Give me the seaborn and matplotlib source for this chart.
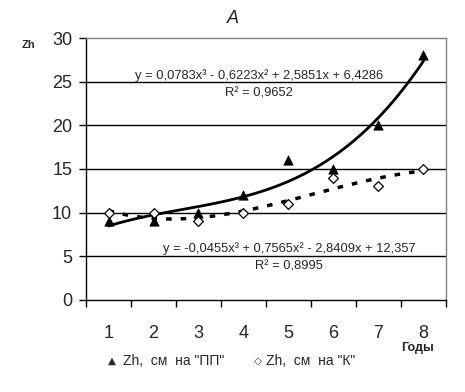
import numpy as np
import pandas as pd
import matplotlib
matplotlib.use("Agg")
import matplotlib.pyplot as plt
import seaborn as sns

years = [1, 2, 3, 4, 5, 6, 7, 8]
zh_pp = [9, 9, 10, 12, 16, 15, 20, 28]
zh_k = [10, 10, 9, 10, 11, 14, 13, 15]
label_pp = 'Zh,  см  на "ПП"'
label_k = 'Zh,  см  на "К"'
eq_pp = "y = 0,0783x³ - 0,6223x² + 2,5851x + 6,4286"
r2_pp = "R² = 0,9652"
eq_k = "y = -0,0455x³ + 0,7565x² - 2,8409x + 12,357"
r2_k = "R² = 0,8995"

df = pd.DataFrame({"year": years, "pp": zh_pp, "k": zh_k})

sns.set_style("white")
plt.rcParams["font.family"] = ["Liberation Sans", "DejaVu Sans"]

fig = plt.figure(figsize=(4.65, 3.92), dpi=100)
ax = fig.add_axes([0.185, 0.235, 0.774, 0.668])

# horizontal grid
for yv in [5, 10, 15, 20, 25]:
    ax.axhline(yv, color="black", lw=1.0, zorder=1)

# cubic trend lines
sns.regplot(data=df, x="year", y="pp", order=3, ci=None, scatter=False,
            truncate=True, ax=ax, line_kws=dict(color="black", lw=2, zorder=3))
sns.regplot(data=df, x="year", y="k", order=3, ci=None, scatter=False,
            truncate=True, ax=ax,
            line_kws=dict(color="black", lw=2.5, ls=(0, (1.6, 2.6)), zorder=3))

sns.scatterplot(data=df, x="year", y="pp", marker="^", s=45, color="black",
                edgecolor="black", ax=ax, zorder=4)
sns.scatterplot(data=df, x="year", y="k", marker="D", s=25, facecolor="white",
                edgecolor="black", linewidth=0.9, ax=ax, zorder=4)

ax.set_xlim(0.5, 8.5)
ax.set_ylim(0, 30)
ax.set_xlabel("")
ax.set_ylabel("")

ax.set_xticks(years)
ax.set_xticklabels([str(y) for y in years], fontsize=13)
ax.set_xticks(np.arange(0.5, 9.0, 1.0), minor=True)
ax.tick_params(axis="x", which="major", length=0, pad=18)
ax.tick_params(axis="x", which="minor", length=5, width=1, color="black",
               direction="out", bottom=True)
ax.set_yticks([0, 5, 10, 15, 20, 25, 30])
ax.tick_params(axis="y", length=5, width=1, color="black", direction="out",
               left=True, labelsize=13, pad=5)

ax.spines["left"].set_color("black")
ax.spines["bottom"].set_color("black")
ax.spines["top"].set_color("#808080")
ax.spines["right"].set_color("#808080")
for s in ax.spines.values():
    s.set_linewidth(1.0)

ax.text(0.48, 0.855, eq_pp, transform=ax.transAxes, ha="center", va="center", fontsize=9.3)
ax.text(0.48, 0.79, r2_pp, transform=ax.transAxes, ha="center", va="center", fontsize=9.3)
ax.text(0.565, 0.195, eq_k, transform=ax.transAxes, ha="center", va="center", fontsize=9.3)
ax.text(0.565, 0.127, r2_k, transform=ax.transAxes, ha="center", va="center", fontsize=9.3)

fig.text(0.501, 0.953, "A", ha="center", va="center", fontsize=13, style="italic")
fig.text(0.062, 0.885, "Zh", ha="center", va="center", fontsize=8, fontweight="bold")
fig.text(0.897, 0.111, "Годы", ha="center", va="center", fontsize=9, fontweight="bold")

# legend row
fig.text(0.241, 0.079, "▲", ha="center", va="center", fontsize=7.5, family="DejaVu Sans")
fig.text(0.264, 0.079, label_pp, ha="left", va="center", fontsize=10)
fig.text(0.555, 0.079, "◇", ha="center", va="center", fontsize=7.5, family="DejaVu Sans")
fig.text(0.572, 0.079, label_k, ha="left", va="center", fontsize=10)

fig.savefig("out.png", dpi=100)
